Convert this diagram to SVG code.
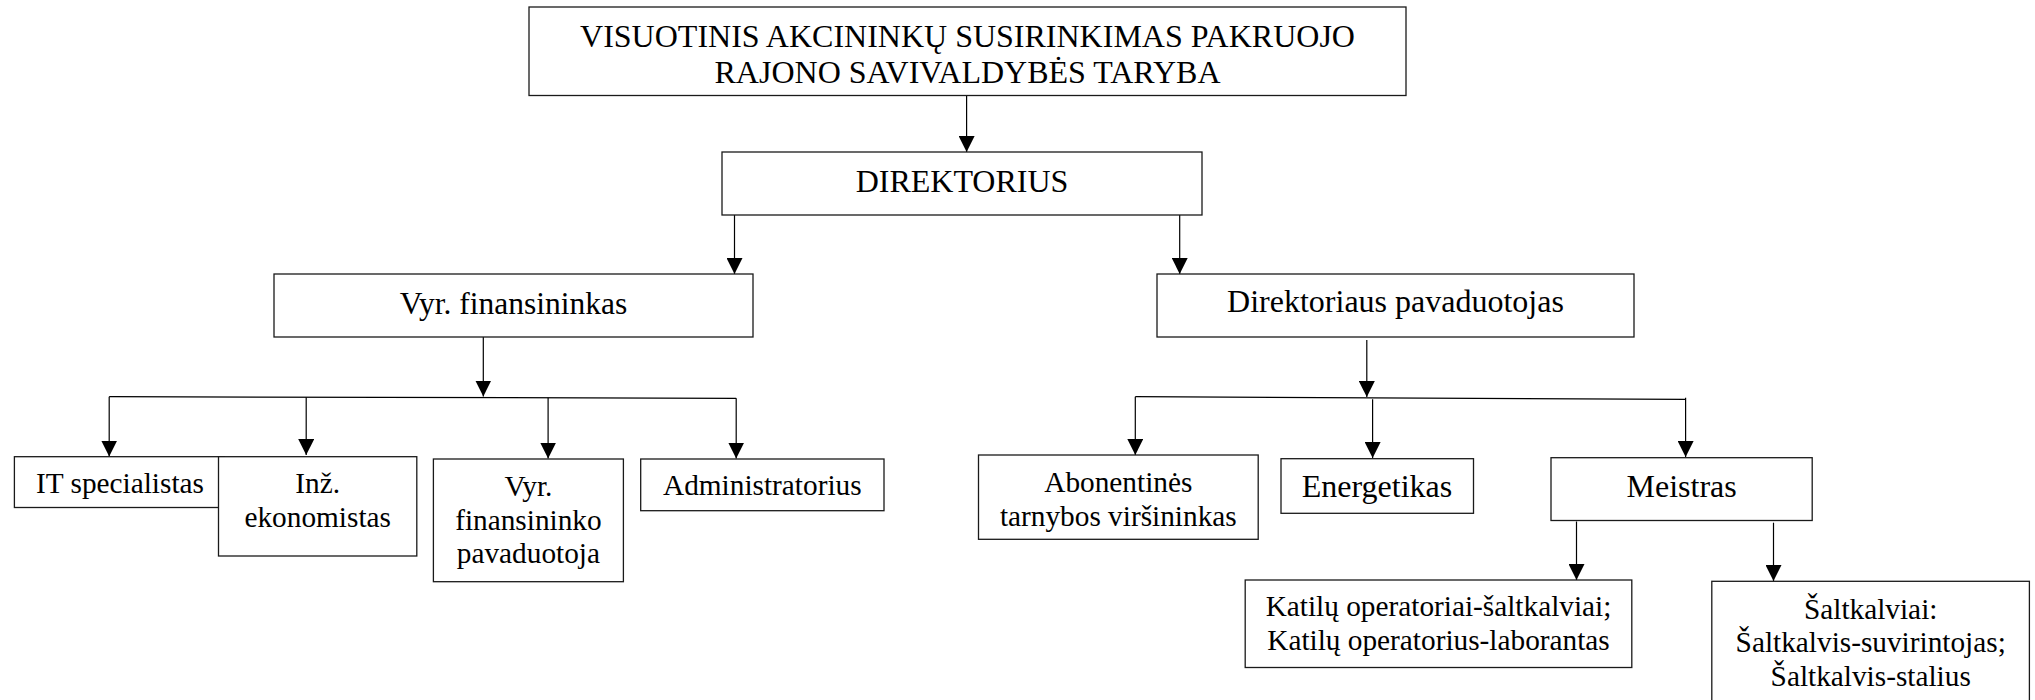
<svg xmlns="http://www.w3.org/2000/svg" width="2035" height="700" viewBox="0 0 2035 700">
  <style>
    .box { fill: #fff; stroke: #1a1a1a; stroke-width: 1.3; }
    .conn { fill: none; stroke: #000; stroke-width: 1.2; }
    text { font-family: "Liberation Serif", "Times New Roman", serif; fill: #000; text-anchor: middle; }
    .a { font-size: 32px; }
    .a31 { font-size: 31.5px; }
    .b { font-size: 29.3px; }
  </style>
  <defs>
    <marker id="arr" markerUnits="userSpaceOnUse" markerWidth="16" markerHeight="16" refX="16" refY="8" orient="auto" viewBox="0 0 16 16">
      <path d="M0,0 L16,8 L0,16 Z" fill="#000"/>
    </marker>
  </defs>
  <rect width="2035" height="700" fill="#fff"/>

  <g id="connectors">
    <line class="conn" x1="966.6" y1="95.5" x2="966.6" y2="152" marker-end="url(#arr)"/>
    <line class="conn" x1="734.5" y1="215" x2="734.5" y2="274" marker-end="url(#arr)"/>
    <line class="conn" x1="1179.7" y1="215" x2="1179.7" y2="274" marker-end="url(#arr)"/>
    <line class="conn" x1="483.3" y1="337" x2="483.3" y2="396.5" marker-end="url(#arr)"/>
    <line class="conn" x1="109.2" y1="396.7" x2="736.2" y2="398.3"/>
    <line class="conn" x1="109.2" y1="396.7" x2="109.2" y2="456.5" marker-end="url(#arr)"/>
    <line class="conn" x1="306.2" y1="397.2" x2="306.2" y2="455" marker-end="url(#arr)"/>
    <line class="conn" x1="548.1" y1="397.8" x2="548.1" y2="458.5" marker-end="url(#arr)"/>
    <line class="conn" x1="736.2" y1="398.3" x2="736.2" y2="458.5" marker-end="url(#arr)"/>
    <line class="conn" x1="1366.8" y1="340" x2="1366.8" y2="397" marker-end="url(#arr)"/>
    <line class="conn" x1="1135.3" y1="396.7" x2="1685.6" y2="399.3"/>
    <line class="conn" x1="1135.3" y1="396.7" x2="1135.3" y2="455" marker-end="url(#arr)"/>
    <line class="conn" x1="1372.6" y1="399.3" x2="1372.6" y2="458" marker-end="url(#arr)"/>
    <line class="conn" x1="1685.6" y1="397.7" x2="1685.6" y2="457" marker-end="url(#arr)"/>
    <line class="conn" x1="1576.5" y1="521.5" x2="1576.5" y2="580" marker-end="url(#arr)"/>
    <line class="conn" x1="1773.5" y1="522.7" x2="1773.5" y2="581" marker-end="url(#arr)"/>
  </g>

  <g id="n-taryba">
    <rect class="box" x="529" y="7" width="877" height="88.5"/>
    <text class="a" x="967.5" y="47">VISUOTINIS AKCININKŲ SUSIRINKIMAS PAKRUOJO</text>
    <text class="a" x="967.5" y="83">RAJONO SAVIVALDYBĖS TARYBA</text>
  </g>
  <g id="n-direktorius">
    <rect class="box" x="722" y="152" width="480" height="63"/>
    <text class="a" x="962" y="192">DIREKTORIUS</text>
  </g>
  <g id="n-vyr-finansininkas">
    <rect class="box" x="274" y="274" width="479" height="63"/>
    <text class="a31" x="513.5" y="314">Vyr. finansininkas</text>
  </g>
  <g id="n-dir-pavaduotojas">
    <rect class="box" x="1157" y="274" width="477" height="63"/>
    <text class="a" x="1395.5" y="312">Direktoriaus pavaduotojas</text>
  </g>
  <g id="n-it">
    <rect class="box" x="14.4" y="456.7" width="210" height="50.8"/>
    <text class="b" x="120" y="493">IT specialistas</text>
  </g>
  <g id="n-inz">
    <rect class="box" x="218.5" y="456.7" width="198.3" height="99.3"/>
    <text class="b" x="317.7" y="493">Inž.</text>
    <text class="b" x="317.7" y="526.5">ekonomistas</text>
  </g>
  <g id="n-vyr-fin-pav">
    <rect class="box" x="433.4" y="459" width="190" height="122.7"/>
    <text class="b" x="528.4" y="496">Vyr.</text>
    <text class="b" x="528.4" y="529.5">finansininko</text>
    <text class="b" x="528.4" y="563">pavaduotoja</text>
  </g>
  <g id="n-admin">
    <rect class="box" x="640.7" y="459" width="243.3" height="51.7"/>
    <text class="b" x="762.3" y="495">Administratorius</text>
  </g>
  <g id="n-abonent">
    <rect class="box" x="978.5" y="455" width="279.7" height="84.3"/>
    <text class="b" x="1118.3" y="492">Abonentinės</text>
    <text class="b" x="1118.3" y="525.5">tarnybos viršininkas</text>
  </g>
  <g id="n-energetikas">
    <rect class="box" x="1281" y="458.7" width="192.5" height="54.6"/>
    <text class="a" x="1377" y="497">Energetikas</text>
  </g>
  <g id="n-meistras">
    <rect class="box" x="1551" y="457.7" width="261.2" height="62.8"/>
    <text class="a" x="1681.6" y="496.5">Meistras</text>
  </g>
  <g id="n-katilu">
    <rect class="box" x="1245.2" y="580" width="386.6" height="87.5"/>
    <text class="b" x="1438.5" y="616">Katilų operatoriai-šaltkalviai;</text>
    <text class="b" x="1438.5" y="650">Katilų operatorius-laborantas</text>
  </g>
  <g id="n-saltkalviai">
    <rect class="box" x="1711.8" y="581.3" width="317.6" height="125"/>
    <text class="b" x="1870.7" y="618.5">Šaltkalviai:</text>
    <text class="b" x="1870.7" y="652">Šaltkalvis-suvirintojas;</text>
    <text class="b" x="1870.7" y="685.5">Šaltkalvis-stalius</text>
  </g>
</svg>
